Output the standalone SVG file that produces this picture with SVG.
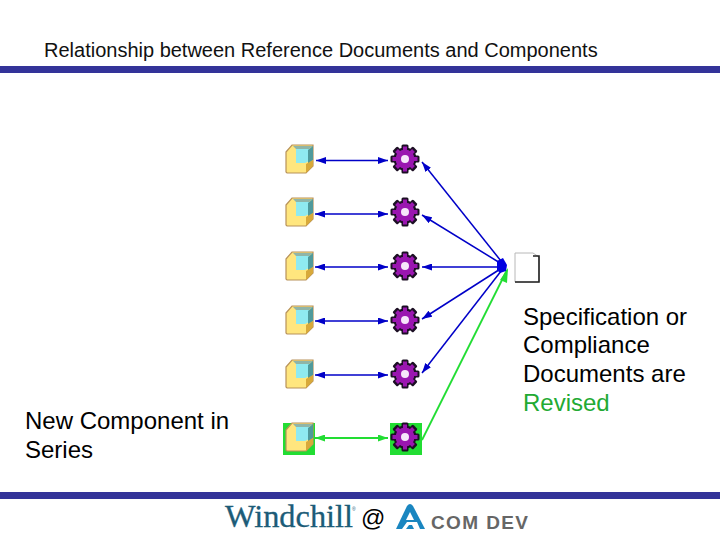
<svg xmlns="http://www.w3.org/2000/svg" width="720" height="540" viewBox="0 0 720 540">
<style>
.t{font-family:"Liberation Sans",Arial,sans-serif;font-size:24px;fill:#000}
.b{stroke:#0000c8;stroke-width:1.5;fill:none;marker-start:url(#ab);marker-end:url(#ab)}
.bs{stroke:#0000c8;stroke-width:1.5;fill:none;marker-start:url(#ab)}
.g{stroke:#22dd33;stroke-width:1.8;fill:none}
.gm{marker-start:url(#ag);marker-end:url(#ag)}
.hl{fill:#22dd33}
</style>
<defs>
<marker id="ab" viewBox="0 0 10 7" refX="10" refY="3.5" markerUnits="userSpaceOnUse" markerWidth="10" markerHeight="7" orient="auto-start-reverse"><path d="M0 0L10 3.5L0 7Z" fill="#0000c8"/></marker>
<marker id="ag" viewBox="0 0 10 7" refX="10" refY="3.5" markerUnits="userSpaceOnUse" markerWidth="10" markerHeight="7" orient="auto-start-reverse"><path d="M0 0L10 3.5L0 7Z" fill="#22dd33"/></marker>
<g id="cube">
<path d="M286 152L292 145H313V166L306 173H287L286 172Z" fill="#ffe67e" stroke="#b8925a" stroke-width="1.2"/>
<path d="M296 147H309V161L305 163H296Z" fill="#8feaf0"/>
<path d="M293 146H313L309 149H296Z" fill="#8fb5a8"/>
<path d="M308 150L313 146V160L308 164Z" fill="#4f9a9c"/>
<path d="M306 164L313 160V166L306 173Z" fill="#d8a93a"/>
</g>
<g id="gear">
<g fill="#1c0f24">
<circle cx="0" cy="0" r="11.5"/>
<rect x="-3.5" y="-14.5" width="7" height="29" rx="1.5"/>
<rect x="-14.5" y="-3.5" width="29" height="7" rx="1.5"/>
<rect x="-3.5" y="-14.5" width="7" height="29" rx="1.5" transform="rotate(45)"/>
<rect x="-14.5" y="-3.5" width="29" height="7" rx="1.5" transform="rotate(45)"/>
</g>
<g fill="#9a16b0">
<circle cx="0" cy="0" r="9.5"/>
<rect x="-2" y="-12.5" width="4" height="25"/>
<rect x="-12.5" y="-2" width="25" height="4"/>
<rect x="-2" y="-12" width="4" height="24" transform="rotate(45)"/>
<rect x="-12" y="-2" width="24" height="4" transform="rotate(45)"/>
</g>
<circle cx="0" cy="0" r="4" fill="#f6e6fa"/>
</g>
</defs>
<rect width="720" height="540" fill="#fff"/>
<text id="title" x="44" y="57" style="font-family:'Liberation Sans',Arial,sans-serif;font-size:20px;fill:#111">Relationship between Reference Documents and Components</text>
<rect x="0" y="66" width="720" height="7" fill="#333399"/>
<rect x="0" y="492" width="720" height="7" fill="#333399"/>
<g id="connectors">
<path class="b" d="M316 160.500H388"/>
<path class="b" d="M315 214H388"/>
<path class="b" d="M315 267H388"/>
<path class="b" d="M315 321H388"/>
<path class="b" d="M315 375H388"/>
<path class="bs" d="M422 162L505 266"/>
<path class="bs" d="M422 215L505 266"/>
<path class="bs" d="M422 267H505"/>
<path class="bs" d="M422 319L505 266"/>
<path class="bs" d="M422 373L505 266"/>
<path class="g" d="M422 440L507 270"/>
<path class="g gm" d="M315 438H388"/>
<path d="M497 261L503 258L507 265L506 271L500 273L497 270Z" fill="#0000e0"/>
<path d="M500 280L508 268L507 283Z" fill="#22dd33"/>
</g>
<g id="node-c1"><use href="#cube"/></g>
<g id="node-c2"><use href="#cube" y="53"/></g>
<g id="node-c3"><use href="#cube" y="107"/></g>
<g id="node-c4"><use href="#cube" y="161"/></g>
<g id="node-c5"><use href="#cube" y="215"/></g>
<g id="node-c6"><rect class="hl" x="283" y="423" width="32" height="32"/><use href="#cube" y="278"/></g>
<g id="node-g1"><use href="#gear" x="405" y="159"/></g>
<g id="node-g2"><use href="#gear" x="405" y="212"/></g>
<g id="node-g3"><use href="#gear" x="405" y="266"/></g>
<g id="node-g4"><use href="#gear" x="405" y="320"/></g>
<g id="node-g5"><use href="#gear" x="405" y="374"/></g>
<g id="node-g6"><rect class="hl" x="390" y="423" width="32" height="32"/><use href="#gear" x="405" y="437"/></g>
<g id="node-doc">
<path d="M515 253H533L539 257V282H515Z" fill="#fff" stroke="#b8b8b8" stroke-width="1"/>
<path d="M515 282H539V256H533" fill="none" stroke="#222" stroke-width="1.6"/>
</g>
<text class="t" x="523" y="325">Specification or</text>
<text class="t" x="523" y="353">Compliance</text>
<text class="t" x="523" y="382">Documents are</text>
<text class="t" x="523" y="411" style="fill:#22aa33">Revised</text>
<text class="t" x="25" y="429">New Component in</text>
<text class="t" x="25" y="458">Series</text>
<g id="footer">
<text x="225" y="527" style="font-family:'Liberation Serif','Times New Roman',serif;font-size:31px;fill:#1c5c78;stroke:#1c5c78;stroke-width:.3" textLength="128" lengthAdjust="spacingAndGlyphs">Windchill</text>
<text x="352" y="511" style="font-family:'Liberation Sans',Arial,sans-serif;font-size:5px;fill:#1c5c78">®</text>
<text x="361" y="526" style="font-family:'Liberation Sans',Arial,sans-serif;font-size:24px">@</text>
<path d="M396 529L407 506Q410 502 413 506L425 529Z" fill="#1a86c0"/>
<path d="M410 512L414 520H406Z" fill="#fff"/>
<path d="M402 529L407 522H417L420 529H414L412 525H409L406 529Z" fill="#fff"/>
<text x="431" y="529" style="font-family:'Liberation Sans',Arial,sans-serif;font-size:19px;font-weight:bold;fill:#666" textLength="97">COM DEV</text>
</g>
</svg>
